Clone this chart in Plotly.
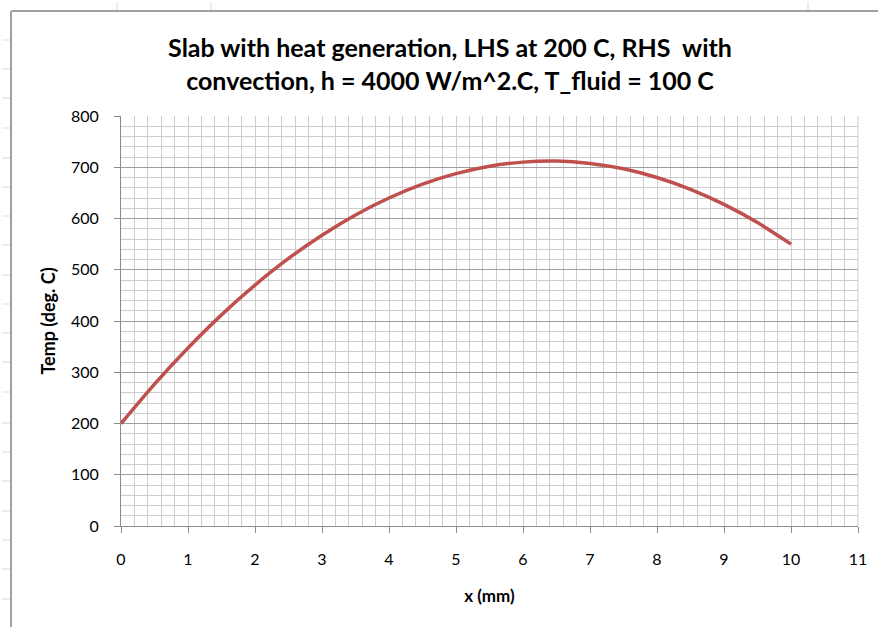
import plotly.graph_objects as go

# Data
x_mm = [0, 0.5, 1, 1.5, 2, 2.5, 3, 3.5, 4, 4.5, 5, 5.5, 6, 6.5, 7, 7.5, 8, 8.5, 9, 9.5, 10]
temp_c = [200, 277, 347.5, 412, 470, 522, 567.5, 607, 640, 667, 687.5, 702, 710, 712, 707.5, 697, 680, 657, 627.5, 592, 550]

title_text = ("Slab with heat generation, LHS at 200 C, RHS  with<br>"
              "convection, h = 4000 W/m^2.C, T_fluid = 100 C")
x_title = "x (mm)"
y_title = "Temp (deg. C)"

W, H = 878, 627
L, R, T, B = 121, 858, 116, 526

fig = go.Figure()
fig.add_trace(go.Scatter(
    x=x_mm, y=temp_c, mode="lines",
    line=dict(color="#C0504D", width=3.5, shape="spline", smoothing=0.6),
    hoverinfo="skip", showlegend=False,
))

FONT = "Lato, 'Open Sans', sans-serif"
minor_col = "#CDCDCD"
major_col = "#9E9E9E"

fig.update_xaxes(
    range=[0, 11], dtick=1, tick0=0,
    showgrid=True, gridcolor=minor_col, gridwidth=1,
    minor=dict(dtick=0.2, showgrid=True, gridcolor=minor_col, gridwidth=1),
    showline=True, linecolor="#8C8C8C", linewidth=1,
    ticks="outside", ticklen=6, tickcolor="#8C8C8C",
    tickfont=dict(family=FONT, size=16, color="#000"),
    ticklabelstandoff=13,
    zeroline=False, mirror=False,
    title=dict(text="<b>" + x_title + "</b>", font=dict(family=FONT, size=17, color="#000"), standoff=22),
)
fig.update_yaxes(
    range=[0, 800], dtick=100, tick0=0,
    showgrid=True, gridcolor=major_col, gridwidth=1,
    minor=dict(dtick=20, showgrid=True, gridcolor=minor_col, gridwidth=1),
    showline=True, linecolor="#8C8C8C", linewidth=1,
    ticks="outside", ticklen=6, tickcolor="#8C8C8C",
    tickfont=dict(family=FONT, size=16, color="#000"),
    zeroline=False,
    ticklabelstandoff=12,
    title=dict(text="<b>" + y_title + "</b>", font=dict(family=FONT, size=18, color="#000"), standoff=10),
)

def px(xp):
    return (xp - L) / (R - L)

def py(yp):
    return (B - yp) / (B - T)

shapes = []
# right border of plot area (light grid line)
shapes.append(dict(type="line", xref="paper", yref="paper", x0=1, x1=1, y0=0, y1=1,
                   line=dict(color=minor_col, width=1)))
# chart area border (left and top)
shapes.append(dict(type="line", xref="paper", yref="paper", x0=px(11), x1=px(11), y0=py(11), y1=py(640),
                   line=dict(color="#A0A0A0", width=2)))
shapes.append(dict(type="line", xref="paper", yref="paper", x0=px(11), x1=px(890), y0=py(11), y1=py(11),
                   line=dict(color="#A0A0A0", width=2)))
# spreadsheet row separators on the left
for yp in [40, 69, 98, 128, 158, 187, 216, 245, 275, 304, 333, 362, 392, 423, 452, 481, 511, 540, 569, 599]:
    shapes.append(dict(type="line", xref="paper", yref="paper", x0=px(2), x1=px(10), y0=py(yp), y1=py(yp),
                       line=dict(color="#D5DCE8", width=1)))
# spreadsheet column separators on top
for xp in [117, 211, 808]:
    shapes.append(dict(type="line", xref="paper", yref="paper", x0=px(xp), x1=px(xp), y0=py(2), y1=py(10),
                       line=dict(color="#D5DCE8", width=1)))

fig.update_layout(
    width=W, height=H,
    margin=dict(l=L, r=W - R, t=T, b=H - B, pad=0),
    paper_bgcolor="white", plot_bgcolor="white",
    title=dict(text="<b>" + title_text + "</b>", xref="container", x=450 / W, xanchor="center",
               yref="container", y=1 - 57 / H, yanchor="middle",
               font=dict(family=FONT, size=25, color="#000")),
    shapes=shapes,
    font=dict(family=FONT),
)

fig.write_html("out.html")
